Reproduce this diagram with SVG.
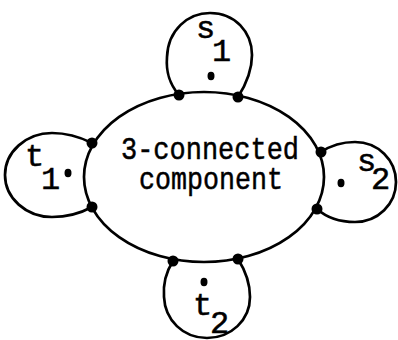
<svg xmlns="http://www.w3.org/2000/svg" width="398" height="340" viewBox="0 0 398 340">
  <style>
    .edge { fill: none; stroke: #000; stroke-width: 2.7; stroke-linecap: round; }
    .lbl { font-family: "Liberation Mono", "Courier New", monospace; font-size: 32px; fill: #000; stroke: #000; stroke-width: 0.5; }
    .pt { fill: #000; }
  </style>
  <rect width="398" height="340" fill="#fff"/>

  <!-- central 3-connected component -->
  <g id="component">
    <ellipse class="edge" cx="204" cy="177" rx="120" ry="85"/>
    <text class="lbl"><tspan x="121" y="159" textLength="178" lengthAdjust="spacingAndGlyphs">3-connected</tspan><tspan x="139" y="189" textLength="144" lengthAdjust="spacingAndGlyphs">component</tspan></text>
  </g>

  <!-- attached pieces: label letter with its index set lower and to the right -->
  <g id="s1">
    <path class="edge" d="M179,95 C168,82 166,70 167,57 C168,30 188,13 210,13 C235,13 252,32 252,55 C252,72 245,86 238,97"/>
    <text class="lbl"><tspan x="196" y="38">s</tspan><tspan x="212" y="61">1</tspan></text>
    <ellipse class="pt" cx="211" cy="76" rx="3.5" ry="4.2"/>
  </g>

  <g id="t1">
    <path class="edge" d="M92,143 C80,137 67,133 52,133 C26,133 5,152 5,175 C5,198 26,217 52,217 C67,217 81,213 92,207"/>
    <text class="lbl"><tspan x="25" y="166">t</tspan><tspan x="41" y="189">1</tspan></text>
    <ellipse class="pt" cx="68" cy="173" rx="3.5" ry="4.2"/>
  </g>

  <g id="s2">
    <path class="edge" d="M321,152 C330,146 342,142 355,142 C378,142 396,160 396,182 C396,204 378,222 355,222 C340,222 326,217 317,209"/>
    <text class="lbl"><tspan x="357" y="171">s</tspan><tspan x="371" y="189">2</tspan></text>
    <ellipse class="pt" cx="341" cy="183" rx="3.5" ry="4.2"/>
  </g>

  <g id="t2">
    <path class="edge" d="M173,261 C166,272 163,285 164,297 C165,320 183,338 207,338 C231,338 250,320 250,297 C250,283 245,270 238,259"/>
    <text class="lbl"><tspan x="193" y="315">t</tspan><tspan x="210" y="333">2</tspan></text>
    <ellipse class="pt" cx="204" cy="282" rx="3.5" ry="4.2"/>
  </g>

  <!-- attachment vertices -->
  <g id="connectors">
    <circle class="pt" cx="179" cy="95" r="5.5"/>
    <circle class="pt" cx="238" cy="97" r="5.5"/>
    <circle class="pt" cx="92" cy="143" r="5.5"/>
    <circle class="pt" cx="92" cy="207" r="5.5"/>
    <circle class="pt" cx="321" cy="152" r="5.5"/>
    <circle class="pt" cx="317" cy="209" r="5.5"/>
    <circle class="pt" cx="173" cy="261" r="5.5"/>
    <circle class="pt" cx="238" cy="259" r="5.5"/>
  </g>
</svg>
